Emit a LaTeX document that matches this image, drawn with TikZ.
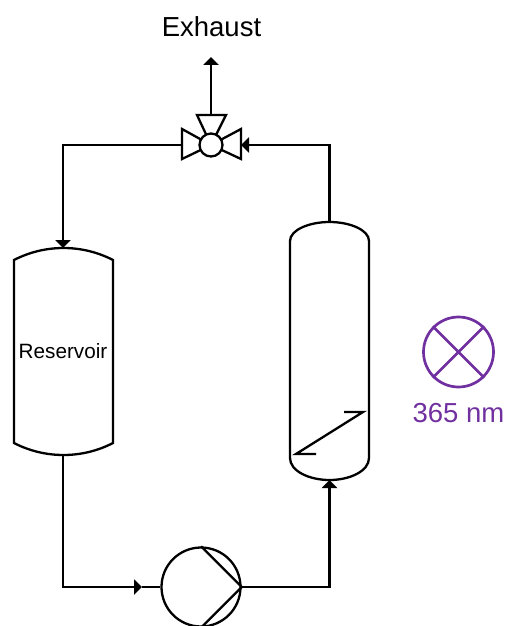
\documentclass[tikz,border=0pt]{standalone}
\usepackage{fontspec}
\setmainfont{Liberation Sans}
\usepackage{xcolor}
\usetikzlibrary{arrows.meta}
\definecolor{lampPurple}{HTML}{7030A0}

\begin{document}
\begin{tikzpicture}[x=1pt, y=-1pt, line width=2.3pt, line join=miter]
               \tikzstyle{myPipe}=[-{Triangle[length=8pt,width=15pt]}]
               \tikzstyle{myCir}=[circle, draw, fill=white, inner sep=0pt]
               \tikzstyle{myLabel}=[inner sep=0pt, font=\fontsize{27.5}{30}\selectfont]

               \useasboundingbox (0,0) rectangle (505,626);

               \coordinate (resTop) at (63,248);
               \coordinate (resBot) at (63,455);
               \coordinate (colTop) at (329.5,222);
               \coordinate (colBot) at (329.5,480);
               \coordinate (pumpIn) at (142,587);
               \coordinate (exhaustEnd) at (211,57);
               \coordinate (valveTop) at (211,115);
               \coordinate (valveLeft) at (182,145);
               \coordinate (valveRight) at (241,145);

               % valve
               \draw (valveLeft |- 0,129) -- (182,159) -- (211,145) -- cycle;
               \draw (valveRight |- 0,129) -- (241,159) -- (211,145) -- cycle;
               \draw (197,115) -- (226,115) -- (211,145) -- cycle;
               \node[myCir, minimum size=23pt] (valve) at (211,145) {};

               % pump
               \node[myCir, minimum size=79pt] (pump) at (201,587) {};
               \draw (pump.north) -- (pump.east) -- (pump.south);

               % reservoir
               \draw (14,260) .. controls (45,244) and (82,244) .. (113,260)
                     -- (113,443) .. controls (82,459) and (45,459) .. (14,443) -- cycle;
               \node[inner sep=0pt, font=\fontsize{20.7}{23}\selectfont] (reservoir) at (63,351) {Reservoir};

               % column
               \draw (290,241) .. controls (290,230) and (309,222) .. (colTop)
                     .. controls (350,222) and (369,230) .. (369,241)
                     -- (369,458) .. controls (369,471) and (350,480) .. (colBot)
                     .. controls (309,480) and (290,471) .. (290,458) -- cycle;
               \draw (344,412) -- (363,412) -- (296,454) -- (316,454);

               % pipes
               \draw[myPipe] (valveTop) -- (exhaustEnd);
               \draw[myPipe] (valveLeft) -| (resTop);
               \draw[myPipe] (resBot) |- (pumpIn);
               \draw (pumpIn) -- (pump);
               \draw[myPipe] (pump) -| (colBot);
               \draw[myPipe] (colTop) |- (valveRight);

               \node[myLabel] (exhaust) at (211.5,27) {Exhaust};

               % lamp
               \node[myCir, draw=lampPurple, fill=none, line width=2.7pt, minimum size=70pt] (lamp) at (458.5,352) {};
               \draw[lampPurple, line width=2.7pt] (lamp.45) -- (lamp.225) (lamp.135) -- (lamp.315);
               \node[myLabel, text=lampPurple] (lampText) at (458.5,413) {365 nm};
            \end{tikzpicture}
\end{document}
